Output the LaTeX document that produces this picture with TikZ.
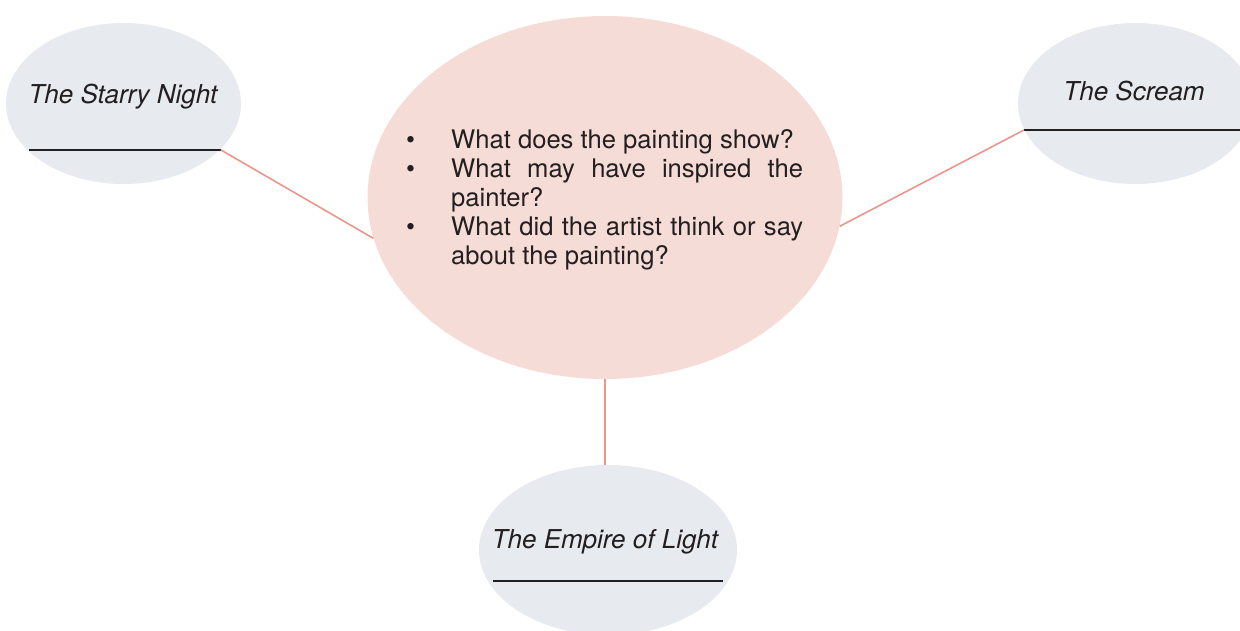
\documentclass[tikz,border=0pt]{standalone}
\usepackage{fontspec}
\setmainfont{TeX Gyre Heros}
\usepackage{enumitem}
\usetikzlibrary{shapes.geometric}
\definecolor{bubblegrey}{HTML}{E7EAEF}
\definecolor{bubblepink}{HTML}{F6DCD6}
\definecolor{linkred}{HTML}{E9968B}
\definecolor{inkdark}{HTML}{231F20}
\tikzset{
  bubble/.style={ellipse, draw=none, fill=bubblegrey, inner sep=0pt},
  title/.style={font=\fontsize{26}{30}\selectfont\itshape, text=inkdark, inner sep=0pt},
  rule/.style={draw=inkdark, line width=2pt},
  link/.style={draw=linkred, line width=1.6pt}
}
\begin{document}
\begin{tikzpicture}[x=1pt,y=-1pt]
\useasboundingbox (0,0) rectangle (1240,630);
% bubbles
\node[bubble, minimum width=235pt, minimum height=161pt] (sn) at (123.5,103.5) {};
\node[bubble, minimum width=235pt, minimum height=161pt] (sc) at (1135.5,103.5) {};
\node[bubble, minimum width=258pt, minimum height=170pt] (el) at (608,550) {};
\node[ellipse, fill=bubblepink, inner sep=0pt, minimum width=475pt, minimum height=363pt] (c) at (605,197.5) {};
% titles
\node[title] (snt) at (123,97) {The Starry Night};
\node[title] (sct) at (1134,91.5) {The Scream};
\node[title] (elt) at (605,542) {The Empire of Light};
% underlines
\coordinate (snL) at (29,150);
\coordinate (snR) at (221,150);
\coordinate (scL) at (1024,130);
\coordinate (scR) at (1240,130);
\coordinate (elL) at (493,581);
\coordinate (elR) at (723,581);
\draw[rule] (snL) -- (snR);
\draw[rule] (scL) -- (scR);
\draw[rule] (elL) -- (elR);
% connectors
\draw[link] (snR) -- (c.190);
\draw[link] (c.-7.7) -- (scL);
\draw[link] (c.south) -- (c.south |- el.north);
% central questions
\node[anchor=north west, inner sep=0pt, text width=397pt, align=justify, text=inkdark,
      font=\fontsize{25.6}{29}\selectfont] (q) at (406,119) {%
\begin{itemize}[label={\textbullet}, leftmargin=45pt, labelwidth=45pt, labelsep=0pt, align=left, itemsep=0pt, parsep=0pt, topsep=0pt, partopsep=0pt]
\item What does the painting show?
\item What may have inspired the painter?
\item What did the artist think or say about the painting?
\end{itemize}};
\end{tikzpicture}
\end{document}
